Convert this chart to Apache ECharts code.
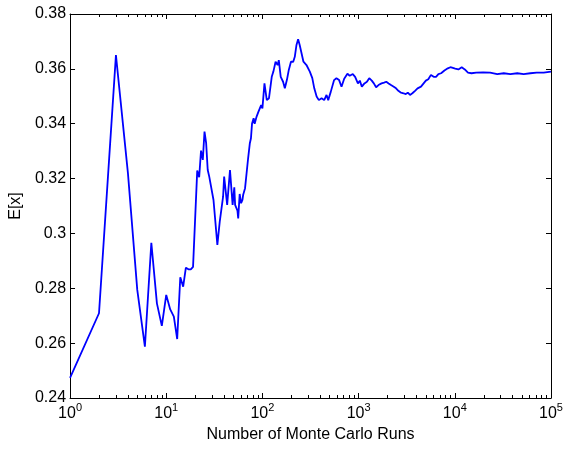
<!DOCTYPE html>
<html>
<head>
<meta charset="utf-8">
<script src="https://cdn.jsdelivr.net/npm/echarts@6/dist/echarts.min.js"></script>
<style>html,body{margin:0;padding:0;background:#fff;}#c{width:566px;height:449px;}</style>
</head>
<body>
<div id="c"></div>
<script>
const runs = [1,2,3,4,5,6,7,8,9,10,11,12,13,14,15,16,17,18,19,21,22,23,24,25,26,27,28,29,31,34,36,37,39,40,43,46,49,51,52,55,56,58,60,62,63,66,71,74,76,78,81,83,85,87,91,92,97,100,105,111,117,125,130,137,144,148,155,164,171,180,188,198,209,217,226,235,244,255,267,287,311,330,346,366,386,412,439,464,483,514,556,588,627,664,708,765,808,870,920,983,1030,1080,1150,1220,1290,1370,1440,1520,1610,1730,1840,1940,2050,2170,2320,2450,2590,2760,2930,3090,3250,3420,3620,3860,4100,4450,4740,5000,5300,5650,6030,6380,6750,7200,7800,8460,9000,9400,10100,10900,11800,12700,13700,14900,16700,19700,23300,27600,32300,37800,44600,52000,61000,71000,84000,100000];
const expectation = [0.2473,0.2709,0.3650,0.3219,0.2794,0.2587,0.2966,0.2745,0.2663,0.2776,0.2723,0.2697,0.2615,0.2840,0.2806,0.2875,0.2869,0.2869,0.2878,0.3229,0.3205,0.3302,0.3268,0.3371,0.3329,0.3231,0.3207,0.3205,0.3122,0.2958,0.3043,0.3043,0.3134,0.3207,0.3104,0.3231,0.3104,0.3168,0.3104,0.3083,0.3055,0.3144,0.3110,0.3122,0.3140,0.3165,0.3274,0.3329,0.3347,0.3401,0.3420,0.3400,0.3407,0.3426,0.3444,0.3440,0.3468,0.3456,0.3547,0.3486,0.3493,0.3571,0.3590,0.3626,0.3614,0.3632,0.3571,0.3553,0.3529,0.3561,0.3596,0.3626,0.3626,0.3644,0.3687,0.3708,0.3687,0.3680,0.3626,0.3614,0.3590,0.3566,0.3529,0.3499,0.3486,0.3493,0.3486,0.3505,0.3486,0.3517,0.3559,0.3566,0.3559,0.3535,0.3564,0.3582,0.3575,0.3581,0.3571,0.3547,0.3557,0.3535,0.3547,0.3553,0.3566,0.3557,0.3547,0.3533,0.3541,0.3547,0.3550,0.3553,0.3547,0.3541,0.3535,0.3529,0.3520,0.3513,0.3511,0.3508,0.3513,0.3505,0.3511,0.3520,0.3529,0.3535,0.3547,0.3557,0.3562,0.3578,0.3571,0.3571,0.3581,0.3584,0.3594,0.3602,0.3606,0.3608,0.3601,0.3598,0.3606,0.3598,0.3586,0.3584,0.3586,0.3587,0.3586,0.3581,0.3584,0.3581,0.3584,0.3581,0.3584,0.3586,0.3586,0.3590];
const yTicks = [0.24,0.26,0.28,0.30,0.32,0.34,0.36,0.38];
const xMajor = [1,10,100,1000,10000,100000];
const xMinor = [2,3,4,5,6,7,8,9,20,30,40,50,60,70,80,90,200,300,400,500,600,700,800,900,2000,3000,4000,5000,6000,7000,8000,9000,20000,30000,40000,50000,60000,70000,80000,90000];
const xTitle = 'Number of Monte Carlo Runs';
const yTitle = 'E[x]';

const FONT = "'Liberation Sans', Arial, sans-serif";
const black = '#000';
const chart = echarts.init(document.getElementById('c'), null, {renderer: 'canvas'});

function xAx(pos, minor, labels) {
  return {
    type: 'log', logBase: 10, min: 1, max: 100000, position: pos,
    axisLine: {show: !minor, onZero: false, lineStyle: {color: black, width: 1}},
    axisTick: minor
      ? {show: true, inside: true, length: 3, lineStyle: {color: black, width: 1}, customValues: xMinor}
      : {show: true, inside: true, length: 5, lineStyle: {color: black, width: 1}, customValues: xMajor},
    splitLine: {show: false},
    minorTick: {show: false},
    axisLabel: labels ? {
      show: true, margin: 4, color: black, fontFamily: FONT,
      customValues: xMajor,
      formatter: v => '{b|10}{s|' + Math.round(Math.log10(v)) + '}',
      rich: {
        b: {fontSize: 16, fontFamily: FONT, color: black, verticalAlign: 'bottom'},
        s: {fontSize: 11, fontFamily: FONT, color: black, verticalAlign: 'top', padding: [0, 0, 9, 0]}
      }
    } : {show: false},
    name: labels ? xTitle : '',
    nameLocation: 'middle', nameGap: 29,
    nameTextStyle: {fontSize: 16, fontFamily: FONT, color: black}
  };
}
function yAx(pos, labels) {
  return {
    type: 'value', min: yTicks[0], max: yTicks[yTicks.length - 1], interval: 0.02, position: pos,
    axisLine: {show: true, onZero: false, lineStyle: {color: black, width: 1}},
    axisTick: {show: true, inside: true, length: 5, lineStyle: {color: black, width: 1}},
    splitLine: {show: false},
    axisLabel: labels ? {show: true, margin: 4, color: black, fontSize: 16, fontFamily: FONT,
      formatter: v => String(parseFloat(v.toFixed(2)))} : {show: false},
    name: labels ? yTitle : '',
    nameLocation: 'middle', nameGap: 40, nameRotate: 90,
    nameTextStyle: {fontSize: 16, fontFamily: FONT, color: black}
  };
}

chart.setOption({
  animation: false,
  backgroundColor: '#fff',
  grid: {left: 67, right: 15, top: 14, bottom: 51, containLabel: false},
  xAxis: [xAx('bottom', false, true), xAx('bottom', true, false), xAx('top', false, false), xAx('top', true, false)],
  yAxis: [yAx('left', true), yAx('right', false)],
  series: [{
    type: 'line', xAxisIndex: 0, yAxisIndex: 0,
    data: runs.map((n, i) => [n, expectation[i]]),
    showSymbol: false, symbol: 'none',
    lineStyle: {color: '#0000ff', width: 1.8},
    itemStyle: {color: '#0000ff'}
  }]
});
</script>
</body>
</html>
